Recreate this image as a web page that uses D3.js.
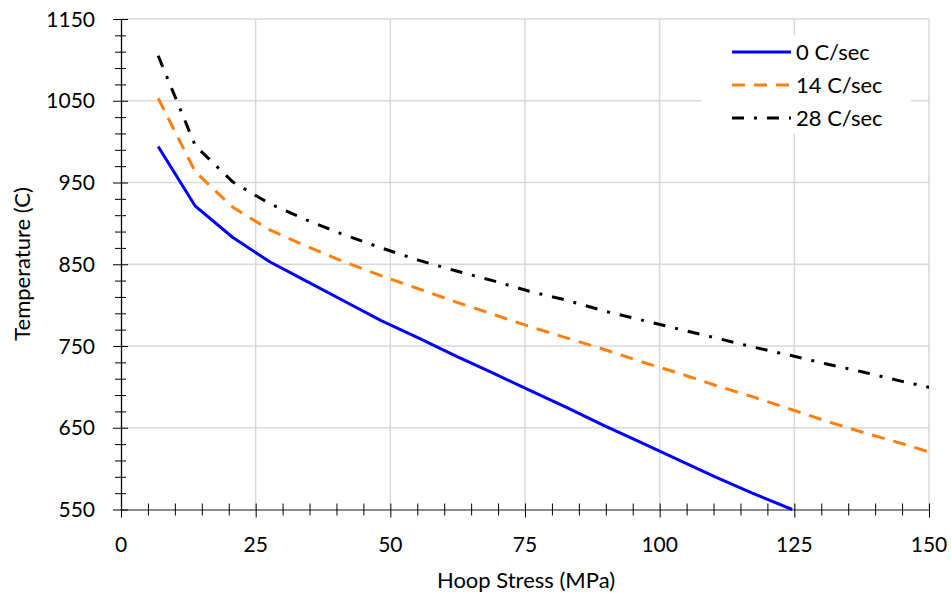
<!DOCTYPE html>
<html>
<head>
<meta charset="utf-8">
<script src="https://cdn.jsdelivr.net/npm/d3@7"></script>
<style>
  body { margin: 0; background: #fff; }
  svg text { font-family: Lato, "Open Sans", sans-serif; fill: #000; }
</style>
</head>
<body>
<svg id="chart" width="951" height="597"></svg>
<script>
// hoop stress (MPa) - looks like whole ksi steps
const stress = [6.9, 13.8, 20.7, 27.6, 34.5, 41.4, 48.3, 55.2, 62.1, 69.0, 75.8,
  82.7, 89.6, 96.5, 103.4, 110.3, 117.2, 124.6, 131.0, 137.9, 144.8, 151.7];

// temperatures
const temp0 = [994, 921, 883, 853, 829, 805, 781, 760, 738, 717, 696,
  675, 653, 632, 611, 590, 570, 550];
const temp14 = [1053, 963, 920, 892, 872, 853, 836, 820, 804, 789, 774,
  760, 746, 731, 717, 702, 688, 672, 658, 644, 631, 617];
const temp28 = [1105, 995, 951, 924, 904, 886, 870, 855, 842, 830, 817,
  806, 793, 782, 771, 760, 749, 738, 728, 718, 707, 697];

const seriesNames = ["0 C/sec", "14 C/sec", "28 C/sec"];
const xTicks = [0, 25, 50, 75, 100, 125, 150];
const yTicks = [550, 650, 750, 850, 950, 1050, 1150];

const svg = d3.select("#chart");

var x = d3.scaleLinear().domain([0, 150]).range([121, 929]);
var y = d3.scaleLinear().domain([550, 1150]).range([509.5, 19]);

// gridlines
svg.append("g")
  .selectAll("line.vg")
  .data(xTicks.slice(1))
  .enter()
  .append("line")
  .attr("x1", (d) => x(d))
  .attr("x2", (d) => x(d))
  .attr("y1", y(1150))
  .attr("y2", y(550))
  .attr("stroke", "#d9d9d9")
  .attr("stroke-width", 1.5);

svg.append("g")
  .selectAll("line.hg")
  .data(yTicks.slice(1))
  .enter()
  .append("line")
  .attr("x1", x(0))
  .attr("x2", x(150))
  .attr("y1", (d) => y(d))
  .attr("y2", (d) => y(d))
  .attr("stroke", "#d9d9d9")
  .attr("stroke-width", 1.5);

// x axis
var xAxis = svg.append("g").attr("transform", "translate(0," + y(550) + ")");
xAxis.call(d3.axisBottom(x).tickValues(d3.range(0, 151, 5)).tickSize(0).tickFormat(""));
xAxis.select(".domain").attr("stroke", "#666").attr("stroke-width", 1.5);
xAxis.selectAll(".tick line")
  .attr("y1", -6)
  .attr("y2", (d) => (d % 25 === 0 ? 8 : 6))
  .attr("stroke", "#000");
svg.append("g")
  .selectAll("text")
  .data(xTicks)
  .enter()
  .append("text")
  .attr("x", (d) => x(d))
  .attr("y", 552)
  .attr("text-anchor", "middle")
  .attr("font-size", 21)
  .text((d) => d);

// y axis
var yAxis = svg.append("g").attr("transform", "translate(" + x(0) + ",0)");
yAxis.call(d3.axisLeft(y).tickValues(d3.range(550, 1151, 20)).tickSize(0).tickFormat(""));
yAxis.select(".domain").attr("stroke", "#000").attr("stroke-width", 1.3);
yAxis.selectAll(".tick line")
  .attr("x1", (d) => ((d - 550) % 100 === 0 ? -8 : -6))
  .attr("x2", (d) => ((d - 550) % 100 === 0 ? 7 : 5))
  .attr("stroke", "#000");
svg.append("g")
  .selectAll("text")
  .data(yTicks)
  .enter()
  .append("text")
  .attr("x", 95)
  .attr("y", (d) => y(d) + 7.5)
  .attr("text-anchor", "end")
  .attr("font-size", 21)
  .text((d) => d);

// axis titles
svg.append("text")
  .attr("x", 526)
  .attr("y", 588)
  .attr("text-anchor", "middle")
  .attr("font-size", 22)
  .text("Hoop Stress (MPa)");

svg.append("text")
  .attr("transform", "translate(30,264) rotate(-90)")
  .attr("text-anchor", "middle")
  .attr("font-size", 22)
  .text("Temperature (C)");

// clip to plot area
svg.append("clipPath")
  .attr("id", "plotclip")
  .append("rect")
  .attr("x", x(0))
  .attr("y", y(1150) - 3)
  .attr("width", x(150) - x(0))
  .attr("height", y(550) - y(1150) + 6);

const series = [
  { vals: temp0, color: "#0000ff", dash: null },
  { vals: temp14, color: "#ff7f0a", dash: "13,9" },
  { vals: temp28, color: "#000000", dash: "12,10,3,10" },
];

var line = d3
  .line()
  .x((d) => x(d[0]))
  .y((d) => y(d[1]));

series.forEach(function (s) {
  var pts = s.vals.map((v, i) => [stress[i], v]);
  svg.append("path")
    .datum(pts)
    .attr("clip-path", "url(#plotclip)")
    .attr("d", line)
    .attr("fill", "none")
    .attr("stroke", s.color)
    .attr("stroke-width", 3)
    .attr("stroke-linejoin", "round")
    .attr("stroke-dasharray", s.dash);
});

// legend
var legend = svg.append("g");
legend.append("rect")
  .attr("x", 702)
  .attr("y", 35)
  .attr("width", 209)
  .attr("height", 99)
  .attr("fill", "#fff");

series.forEach(function (s, i) {
  var ly = 52 + i * 33;
  legend.append("line")
    .attr("x1", 732)
    .attr("x2", 791)
    .attr("y1", ly)
    .attr("y2", ly)
    .attr("stroke", s.color)
    .attr("stroke-width", 3)
    .attr("stroke-dasharray", s.dash);
  legend.append("text")
    .attr("x", 796)
    .attr("y", ly + 8)
    .attr("font-size", 22)
    .text(seriesNames[i]);
});
</script>
</body>
</html>
